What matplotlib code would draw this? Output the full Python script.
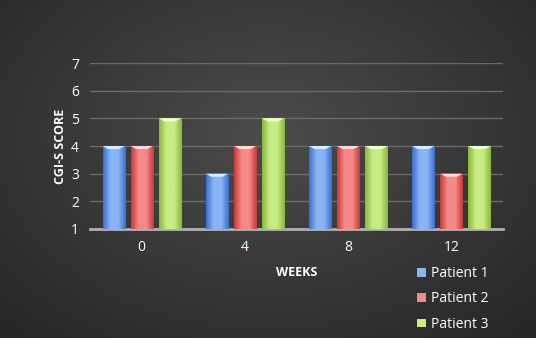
import numpy as np
import matplotlib
matplotlib.use('Agg')
import matplotlib.pyplot as plt
from matplotlib.colors import LinearSegmentedColormap
from matplotlib.patches import Polygon

weeks = ['0', '4', '8', '12']
patients = ['Patient 1', 'Patient 2', 'Patient 3']
p1 = [4, 3, 4, 4]
p2 = [4, 4, 4, 3]
p3 = [5, 5, 4, 4]
values = [p1, p2, p3]

# (edge, centre, top bevel) per series
colours = [('#3c6fd0', '#8ab4f5', '#d8ecff'),
           ('#c83a3a', '#f58a8a', '#ffd8d8'),
           ('#88b83c', '#c8ec86', '#f0ffd0')]

plt.rcParams['font.family'] = ['Open Sans', 'DejaVu Sans']

fig = plt.figure(figsize=(5.36, 3.38), dpi=100)

# radial background
bg = fig.add_axes([0, 0, 1, 1], zorder=-5)
yy, xx = np.mgrid[-1:1:338j, -1:1:536j]
r = np.sqrt((xx * 0.9) ** 2 + ((yy + 0.2) * 0.8) ** 2)
bgcmap = LinearSegmentedColormap.from_list('bg', ['#4c4c4c', '#262626'])
bg.imshow(r, cmap=bgcmap, aspect='auto', vmin=0, vmax=1.3)
bg.axis('off')

ax = fig.add_axes([0.168, 0.3225, 0.7705, 0.491])
ax.patch.set_alpha(0)
x = np.arange(len(weeks))
w = 0.214
offs = 0.272

for i, vals in enumerate(values):
    edge, mid, top = colours[i]
    cm = LinearSegmentedColormap.from_list('c%d' % i, [edge, mid, mid, edge])
    bars = ax.bar(x + (i - 1) * offs, np.array(vals) - 1, w, bottom=1,
                  color=mid, zorder=2, label=patients[i])
    for b in bars:
        x0, y0 = b.get_x(), b.get_y()
        bw, bh = b.get_width(), b.get_height()
        im = ax.imshow(np.linspace(0, 1, 50)[None, :], cmap=cm, aspect='auto',
                       extent=[x0, x0 + bw, y0, y0 + bh], zorder=3)
        im.set_clip_path(b)
        d = 0.11
        tri = Polygon([[x0, y0 + bh], [x0 + bw, y0 + bh],
                       [x0 + bw - bw * 0.25, y0 + bh - d], [x0 + bw * 0.25, y0 + bh - d]],
                      closed=True, color=top, zorder=4, lw=0)
        ax.add_patch(tri)

ax.set_xlim(-0.5, 3.5)
ax.set_ylim(1, 7)
ax.set_yticks(range(1, 8))
ax.set_xticks(x)
ax.set_xticklabels(weeks)
ax.grid(axis='y', color='#6a6a6a', lw=1, zorder=0)
ax.set_axisbelow(True)
for s in ['top', 'right', 'left']:
    ax.spines[s].set_visible(False)
ax.spines['bottom'].set_color('#b0b0b0')
ax.spines['bottom'].set_linewidth(2)
ax.tick_params(colors='white', length=0, labelsize=10, pad=8)
ax.set_xlabel('WEEKS', color='white', fontsize=9, fontweight='bold', labelpad=8)
ax.set_ylabel('CGI-S SCORE', color='white', fontsize=9, fontweight='bold', labelpad=3)

leg = fig.legend(loc='upper left', bbox_to_anchor=(0.755, 0.25), frameon=False,
                 fontsize=10, labelcolor='white', handlelength=0.6, handleheight=0.6,
                 handletextpad=0.4, labelspacing=0.75)

fig.savefig('out.png', dpi=100)
